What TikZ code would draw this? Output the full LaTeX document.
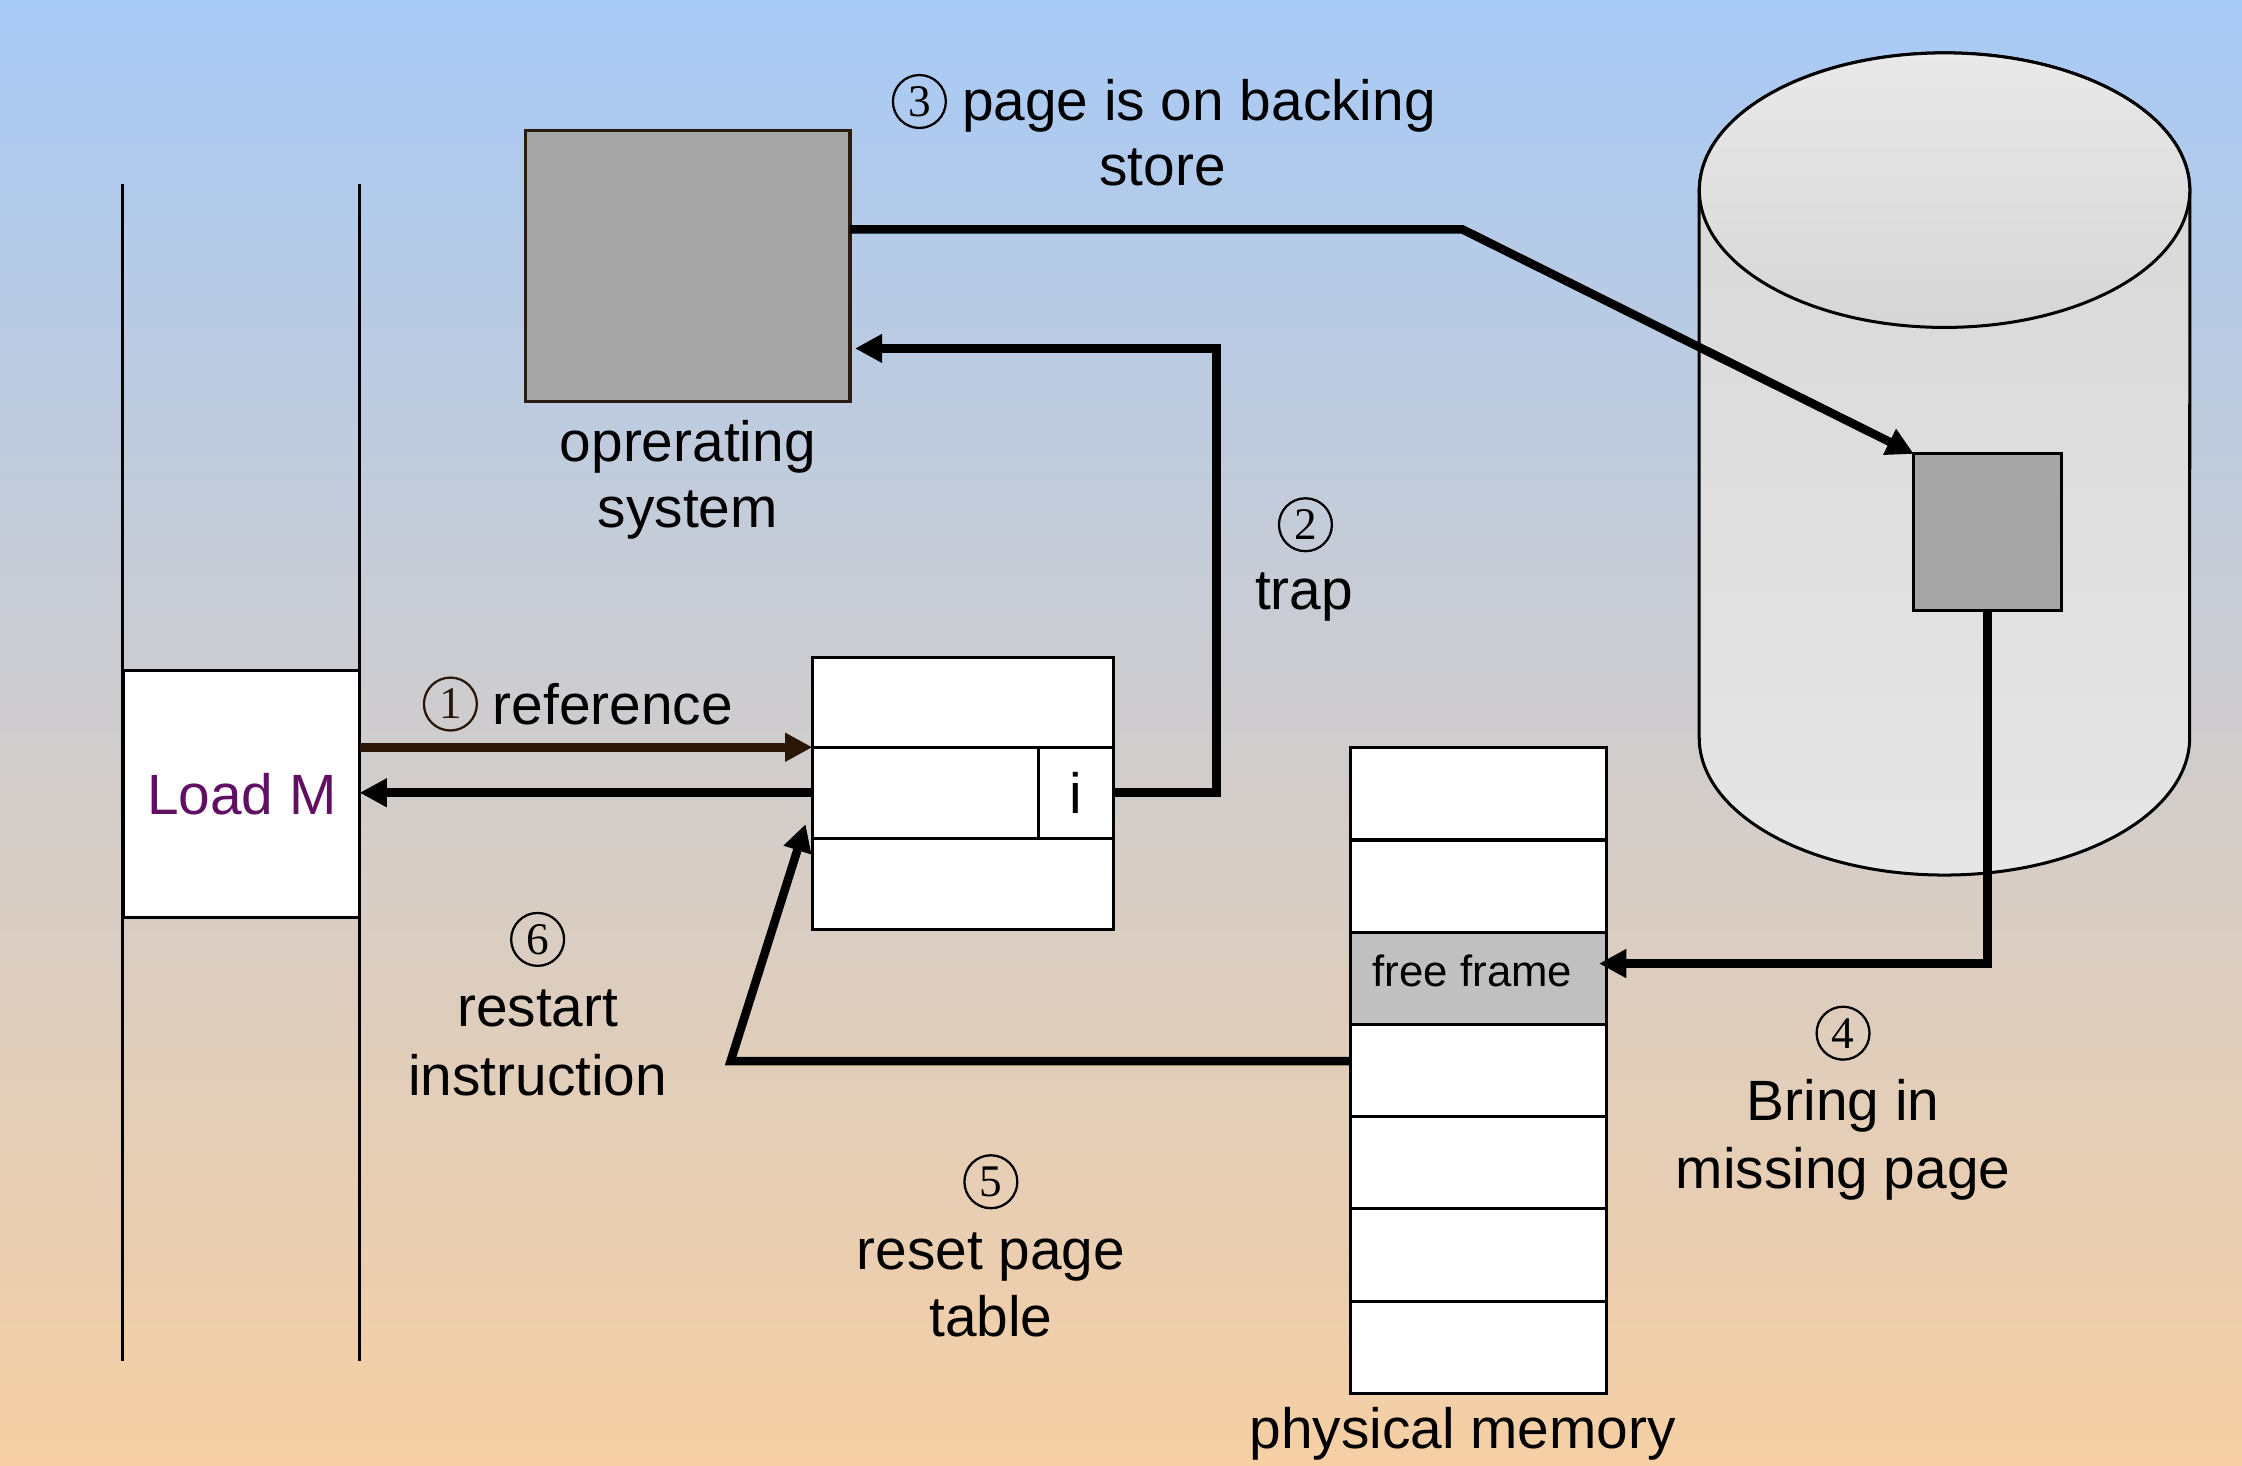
\documentclass[tikz,border=0pt]{standalone}
\usepackage{fontspec}
\setmainfont{Liberation Sans}
\newfontfamily\digitfont{Liberation Serif}
\usetikzlibrary{arrows.meta}
\definecolor{bgtop}{RGB}{168,202,246}
\definecolor{bgbot}{RGB}{246,207,164}
\definecolor{osgray}{RGB}{166,166,166}
\definecolor{osborder}{RGB}{43,27,16}
\definecolor{freegray}{RGB}{192,192,192}
\definecolor{loadpurple}{RGB}{96,16,98}
\definecolor{refbrown}{RGB}{42,22,6}
\definecolor{cyltop}{RGB}{214,214,214}
\definecolor{cylbot}{RGB}{230,230,230}
\definecolor{lidtop}{RGB}{233,233,233}
\definecolor{lidbot}{RGB}{214,214,214}
\newcommand\mainsize{\fontsize{11.3}{13.6}\selectfont}
\begin{document}
\begin{tikzpicture}[x=0.01cm,y=-0.01cm,
  box/.style={draw, line width=0.6pt, fill=white, inner sep=0pt, outer sep=0pt},
  conn/.style={line width=1.7pt, line join=miter},
  tip/.style={-{Triangle[length=0.19cm,width=0.19cm]}},
  lbl/.style={font=\mainsize, inner sep=0pt, anchor=base},
  cnum/.style={draw, circle, minimum size=0.37cm, inner sep=0pt, line width=0.45pt,
    font=\digitfont\fontsize{9}{9}\selectfont},
  colline/.style={line width=0.5pt}]
\useasboundingbox (0,0) rectangle (1568,1025);
\shade[top color=bgtop, bottom color=bgbot] (0,0) rectangle (1568,1025);

% process column
\coordinate (c1t) at (85.6,128.4);
\coordinate (c1b) at (85.6,952);
\coordinate (c2t) at (251.5,128.4);
\coordinate (c2b) at (251.5,952);
\draw[colline] (c1t) -- (c1b);
\draw[colline] (c2t) -- (c2b);

% backing store cylinder
\shadedraw[top color=cyltop, bottom color=cylbot, line width=0.6pt]
  (1188.4,133) -- (1188.4,516) arc[start angle=180,end angle=0,x radius=171.5,y radius=96]
  -- (1531.5,133) arc[start angle=0,end angle=-180,x radius=171.5,y radius=96] -- cycle;
\shadedraw[top color=lidtop, bottom color=lidbot, line width=0.6pt]
  (1360,133) ellipse[x radius=171.5,y radius=96];

% boxes
\node[box, fill=osgray, draw=osborder, minimum width=2.268cm, minimum height=1.898cm] (os) at (481,185.9) {};
\node[box, fill=osgray, minimum width=1.029cm, minimum height=1.095cm] (sbox) at (1390,372.25) {};
\node[box, minimum width=1.648cm, minimum height=1.723cm, text=loadpurple, font=\mainsize] (loadm) at (169.1,555.2) {Load M};

% page table
\node[box, minimum width=2.108cm, minimum height=0.63cm] (ptA) at (673.6,491.1) {};
\node[box, minimum width=1.578cm, minimum height=0.637cm] (ptB) at (647.1,554.45) {};
\node[box, minimum width=0.53cm, minimum height=0.637cm, font=\mainsize] (ptI) at (752.5,554.45) {i};
\node[box, minimum width=2.108cm, minimum height=0.637cm] (ptC) at (673.6,618.15) {};

% physical memory
\foreach \k/\yy in {1/555.25,2/619.75,4/748.75,5/813.25,6/877.75,7/942.25}
  \node[box, minimum width=1.794cm, minimum height=0.645cm] (m\k) at (1034.1,\yy) {};
\node[box, fill=freegray, minimum width=1.794cm, minimum height=0.645cm] (m3) at (1034.1,684.25) {};
\node[lbl, font=\fontsize{8.7}{10}\selectfont] (freelbl) at (1029.8,690) {free frame};

% connectors
\coordinate (bend) at (1022.9,160.5);
\draw[conn, tip] (os.east |- bend) -- (bend) -- (sbox.north west);

\coordinate (trapc) at (850.7,243.7);
\draw[conn, tip, shorten >=0.035cm] (ptI.east) -| (trapc) -- (os.east |- trapc);

\draw[conn, tip, draw=refbrown] (loadm.east |- ptA.south west) -- (ptA.south west);
\draw[conn, tip] (ptB.west) -- (loadm.east |- ptB.west);

\coordinate (bring) at (1390,673.9);
\draw[conn, tip, shorten >=-0.055cm] (sbox.south) -- (bring) -- (m3.east |- bring);

\coordinate (rcorner) at (511,742.1);
\coordinate (rtip) at (563.4,576.4);
\draw[conn, tip] (m4.west |- rcorner) -- (rcorner) -- (rtip);

% labels
\node[cnum] (n3) at (643,71) {3};
\node[lbl] (l3a) at (838.5,84) {page is on backing};
\node[lbl] (l3b) at (813,130) {store};

\node[lbl] (osa) at (481,323) {oprerating};
\node[lbl] (osb) at (481,369) {system};

\node[cnum] (n2) at (913,367) {2};
\node[lbl] (l2) at (912,426) {trap};

\node[cnum, draw=refbrown, text=refbrown] (n1) at (315,492.4) {1};
\node[lbl] (l1) at (428.7,507) {reference};

\node[cnum] (n6) at (376,657) {6};
\node[lbl] (l6a) at (376,718) {restart};
\node[lbl] (l6b) at (376,766) {instruction};

\node[cnum] (n5) at (693,826.5) {5};
\node[lbl] (l5a) at (693,887.6) {reset page};
\node[lbl] (l5b) at (693,935) {table};

\node[cnum] (n4) at (1289,722.6) {4};
\node[lbl] (l4a) at (1289,784) {Bring in};
\node[lbl] (l4b) at (1289,831) {missing page};

\node[lbl] (pm) at (1023,1013) {physical memory};
\end{tikzpicture}
\end{document}
